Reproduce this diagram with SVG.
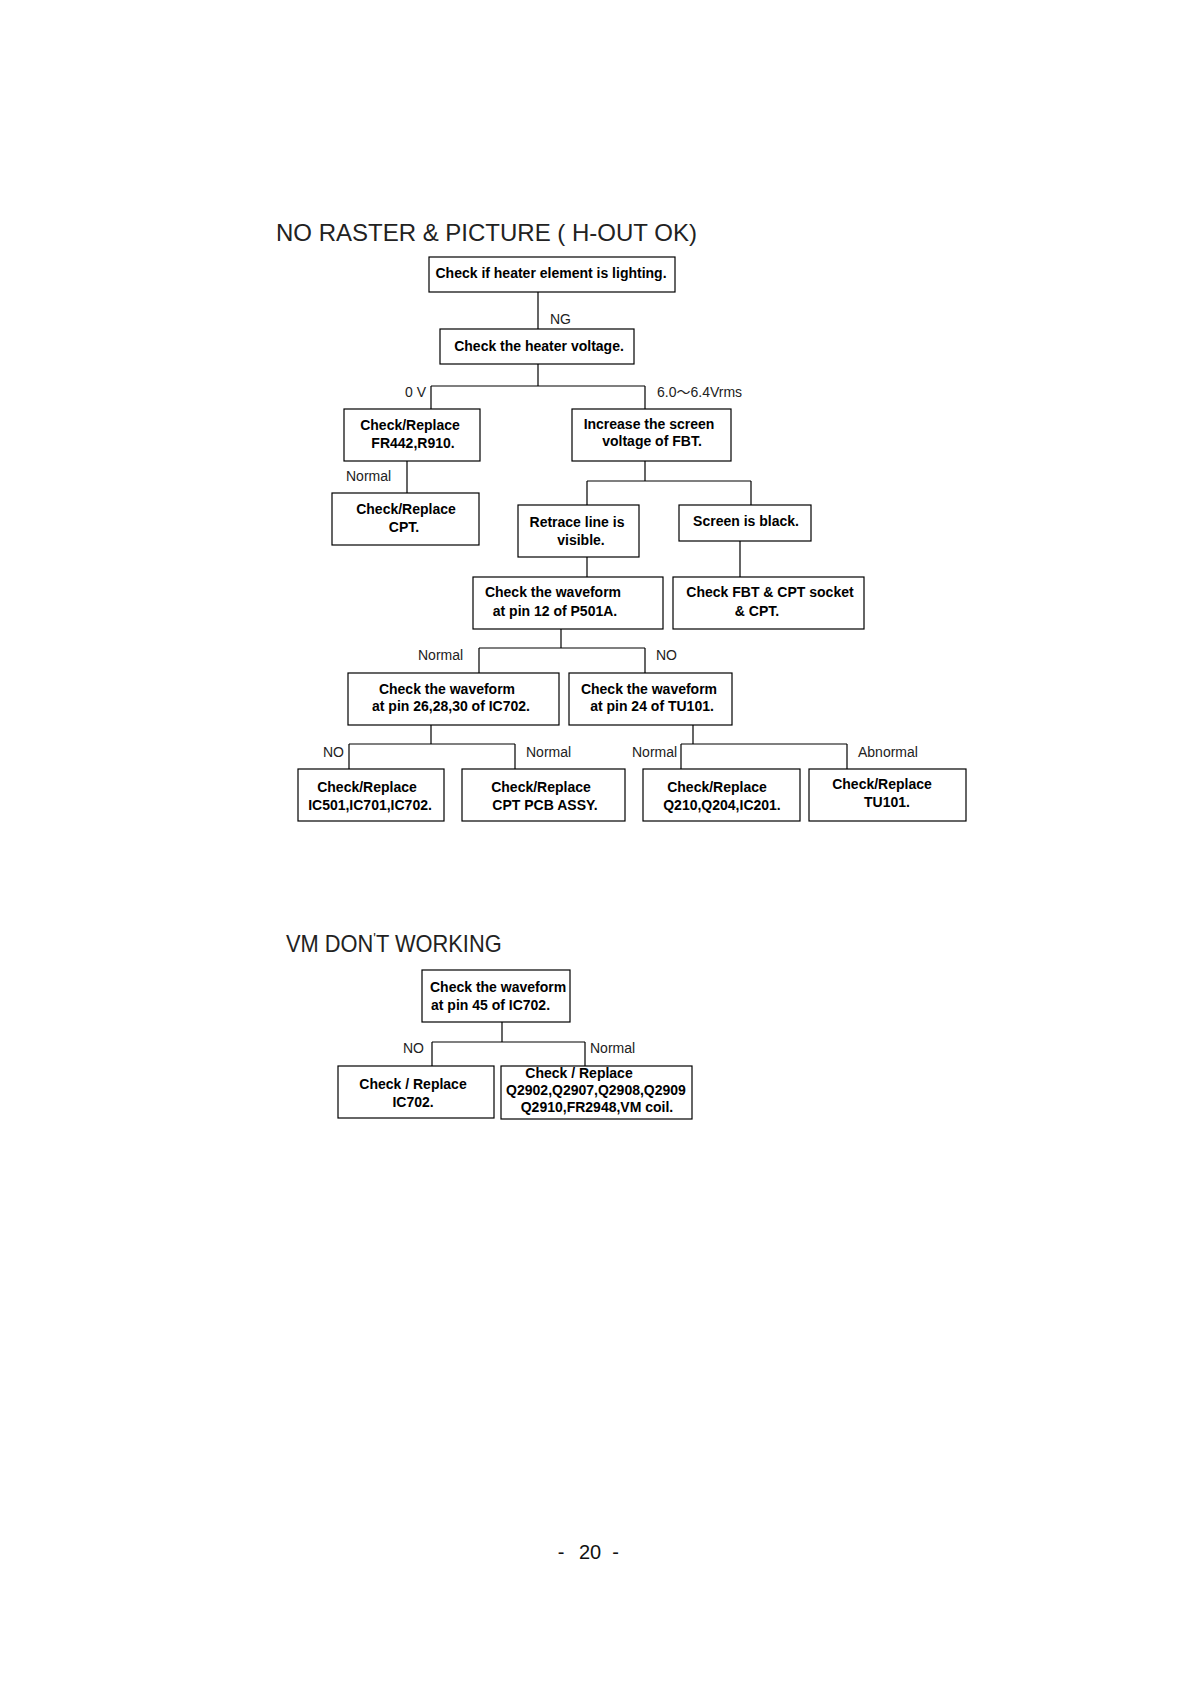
<svg xmlns="http://www.w3.org/2000/svg" width="1179" height="1684" viewBox="0 0 1179 1684">
<style>
.bx{fill:#fff;stroke:#000;stroke-width:1.2}
.ln{fill:none;stroke:#000;stroke-width:1.2}
.t{font-family:"Liberation Sans",Arial,sans-serif;font-weight:bold;font-size:14px;fill:#000;text-anchor:middle}
.t.s{text-anchor:start}
.lb{font-family:"Liberation Sans",Arial,"Noto Sans CJK KR",sans-serif;font-size:14px;fill:#222}
.ti{font-family:"Liberation Sans",Arial,sans-serif;font-size:24px;fill:#222}
</style>
<rect width="1179" height="1684" fill="#fff"/>
<text class="ti" x="276" y="241">NO RASTER &amp; PICTURE ( H-OUT OK)</text>
<g id="connectors">
<path class="ln" d="M538,292V329M538,364V386M431,386H645M431,386V409M645,386V409"/>
<path class="ln" d="M407,461V493M645,461V481M587,481H751M587,481V505M751,481V505"/>
<path class="ln" d="M587,557V577M740,541V577"/>
<path class="ln" d="M561,629V648M479,648H645M479,648V673M645,648V673"/>
<path class="ln" d="M431,725V744M349,744H515M349,744V769M515,744V769"/>
<path class="ln" d="M693,725V744M681,744H847M681,744V769M847,744V769"/>
<path class="ln" d="M502,1022V1042M432,1042H585M432,1042V1066M585,1042V1066"/>
</g>
<g id="labels">
<text class="lb" x="550" y="324">NG</text>
<text class="lb" x="426" y="397" text-anchor="end">0 V</text>
<text class="lb" x="657" y="397">6.0～6.4Vrms</text>
<text class="lb" x="346" y="481">Normal</text>
<text class="lb" x="418" y="660">Normal</text>
<text class="lb" x="656" y="660">NO</text>
<text class="lb" x="323" y="757">NO</text>
<text class="lb" x="526" y="757">Normal</text>
<text class="lb" x="632" y="757">Normal</text>
<text class="lb" x="858" y="757">Abnormal</text>
<text class="lb" x="403" y="1053">NO</text>
<text class="lb" x="590" y="1053">Normal</text>
</g>
<g id="n1"><rect class="bx" x="429" y="257" width="246" height="35"/><text class="t" x="551" y="278">Check if heater element is lighting.</text></g>
<g id="n2"><rect class="bx" x="440" y="329" width="194" height="35"/><text class="t" x="539" y="351">Check the heater voltage.</text></g>
<g id="n3"><rect class="bx" x="344" y="409" width="136" height="52"/><text class="t" x="410" y="430">Check/Replace</text><text class="t" x="413" y="448">FR442,R910.</text></g>
<g id="n4"><rect class="bx" x="572" y="409" width="159" height="52"/><text class="t" x="649" y="428.5">Increase the screen</text><text class="t" x="652" y="445.5">voltage of FBT.</text></g>
<g id="n5"><rect class="bx" x="332" y="493" width="147" height="52"/><text class="t" x="406" y="514">Check/Replace</text><text class="t" x="404" y="532">CPT.</text></g>
<g id="n6"><rect class="bx" x="518" y="505" width="121" height="52"/><text class="t" x="577" y="527">Retrace line is</text><text class="t" x="581" y="545">visible.</text></g>
<g id="n7"><rect class="bx" x="679" y="505" width="132" height="36"/><text class="t" x="746" y="526">Screen is black.</text></g>
<g id="n8"><rect class="bx" x="473" y="577" width="190" height="52"/><text class="t" x="553" y="597">Check the waveform</text><text class="t" x="555" y="615.5">at pin 12 of P501A.</text></g>
<g id="n9"><rect class="bx" x="673" y="577" width="191" height="52"/><text class="t" x="770" y="597">Check FBT &amp; CPT socket</text><text class="t" x="757" y="615.5">&amp; CPT.</text></g>
<g id="n10"><rect class="bx" x="348" y="673" width="211" height="52"/><text class="t" x="447" y="693.5">Check the waveform</text><text class="t" x="451" y="711">at pin 26,28,30 of IC702.</text></g>
<g id="n11"><rect class="bx" x="569" y="673" width="163" height="52"/><text class="t" x="649" y="693.5">Check the waveform</text><text class="t" x="652" y="711">at pin 24 of TU101.</text></g>
<g id="n12"><rect class="bx" x="298" y="769" width="146" height="52"/><text class="t" x="367" y="792">Check/Replace</text><text class="t" x="370" y="810">IC501,IC701,IC702.</text></g>
<g id="n13"><rect class="bx" x="462" y="769" width="163" height="52"/><text class="t" x="541" y="792">Check/Replace</text><text class="t" x="545" y="810">CPT PCB ASSY.</text></g>
<g id="n14"><rect class="bx" x="643" y="769" width="157" height="52"/><text class="t" x="717" y="792">Check/Replace</text><text class="t" x="722" y="810">Q210,Q204,IC201.</text></g>
<g id="n15"><rect class="bx" x="809" y="769" width="157" height="52"/><text class="t" x="882" y="788.5">Check/Replace</text><text class="t" x="887" y="806.5">TU101.</text></g>
<text class="ti" transform="translate(286,952) scale(0.91,1)" x="0" y="0">VM DON<tspan font-size="15" dy="-9">'</tspan><tspan dy="9">T WORKING</tspan></text>
<g id="n16"><rect class="bx" x="422" y="970" width="148" height="52"/><text class="t s" x="430" y="992">Check the waveform</text><text class="t s" x="431" y="1010">at pin 45 of IC702.</text></g>
<g id="n17"><rect class="bx" x="338" y="1066" width="156" height="52"/><text class="t" x="413" y="1089">Check / Replace</text><text class="t" x="413" y="1107">IC702.</text></g>
<g id="n18"><rect class="bx" x="501" y="1066" width="191" height="53"/><text class="t" x="579" y="1078">Check / Replace</text><text class="t" x="596" y="1095">Q2902,Q2907,Q2908,Q2909</text><text class="t" x="597" y="1112">Q2910,FR2948,VM coil.</text></g>
<text font-family="Liberation Sans,Arial,sans-serif" font-size="20" fill="#111" text-anchor="middle" y="1559"><tspan x="561">-</tspan><tspan x="590">20</tspan><tspan x="615.5">-</tspan></text>
</svg>
